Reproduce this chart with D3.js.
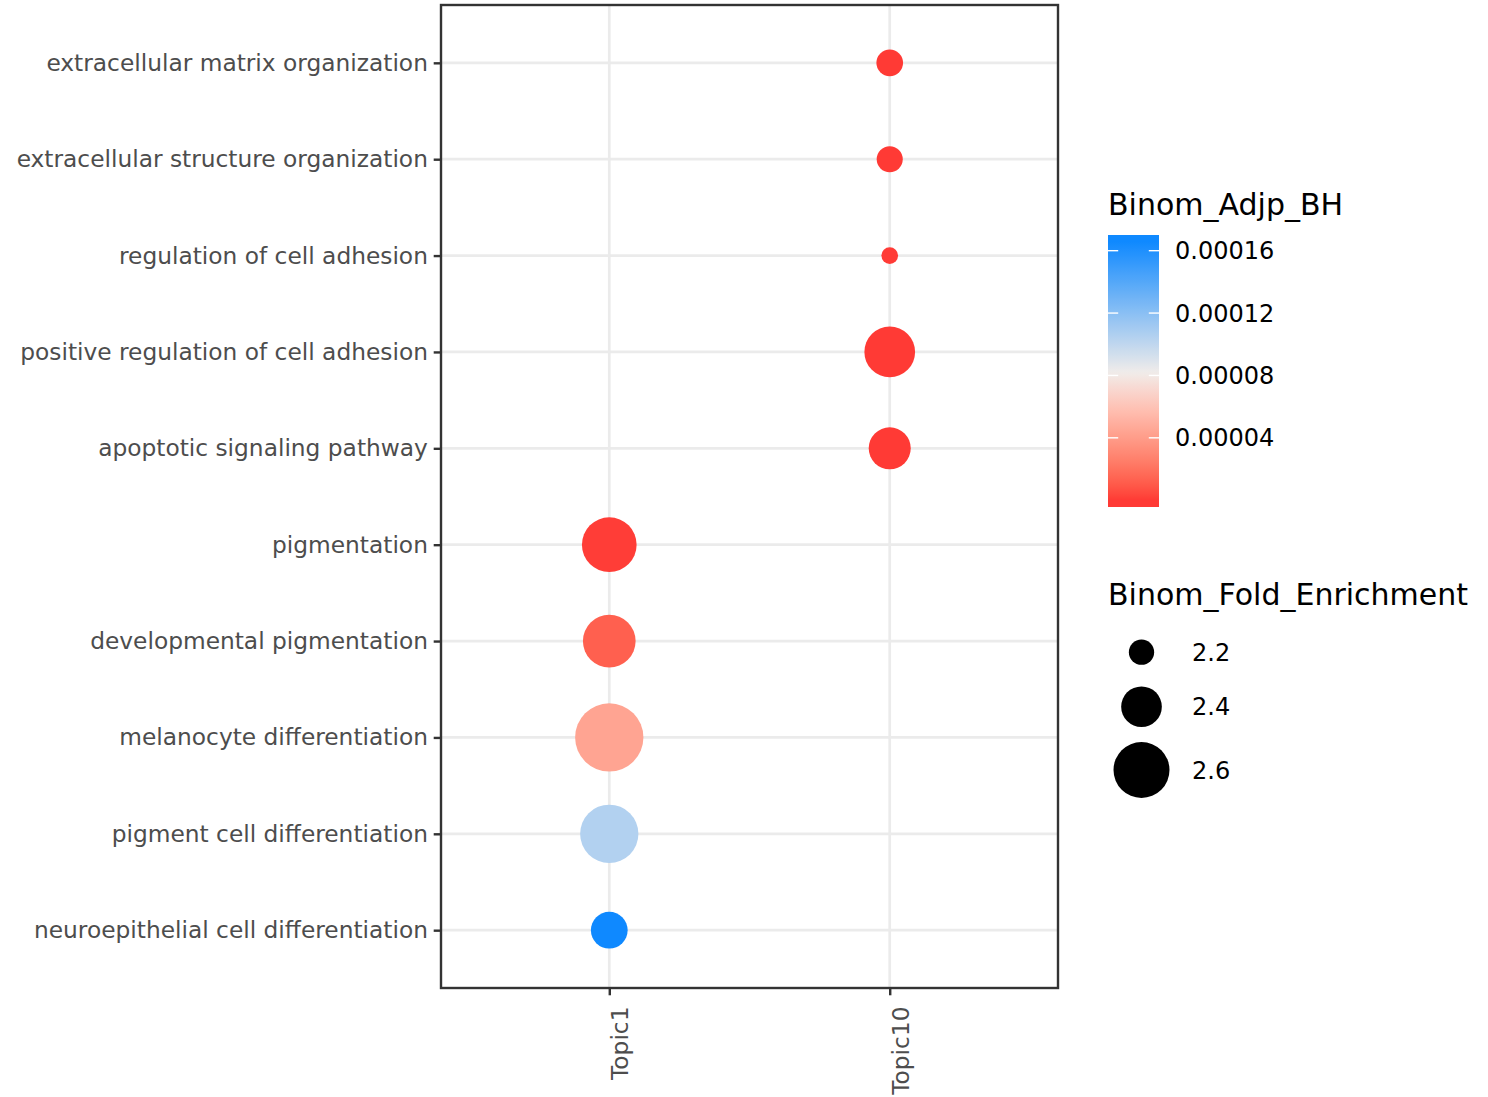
<!DOCTYPE html>
<html>
<head>
<meta charset="utf-8">
<script src="https://cdn.jsdelivr.net/npm/d3@7"></script>
<style>
  html, body { margin: 0; padding: 0; background: #fff; }
  svg { display: block; }
  text { font-family: "DejaVu Sans", sans-serif; }
</style>
</head>
<body>
<svg id="chart" width="1488" height="1097"></svg>
<script>
// ---------------- data ----------------
const terms = [
  "extracellular matrix organization",
  "extracellular structure organization",
  "regulation of cell adhesion",
  "positive regulation of cell adhesion",
  "apoptotic signaling pathway",
  "pigmentation",
  "developmental pigmentation",
  "melanocyte differentiation",
  "pigment cell differentiation",
  "neuroepithelial cell differentiation"
];
const topics = ["Topic1", "Topic10"];
const termTopic = ["Topic10","Topic10","Topic10","Topic10","Topic10",
                   "Topic1","Topic1","Topic1","Topic1","Topic1"];
const foldEnrichment = [2.218, 2.21, 2.088, 2.531, 2.418, 2.583, 2.557, 2.760, 2.630, 2.349];
const adjP = [2.1e-8, 6.5e-8, 3.4e-7, 1.2e-10, 4.0e-9, 8.0e-7, 0.0000128, 0.000044, 0.000105, 0.0001657];
const colorTicks = [0.00004, 0.00008, 0.00012, 0.00016];
const colorTickLabels = ["0.00004", "0.00008", "0.00012", "0.00016"];
const sizeBreaks = [2.2, 2.4, 2.6];
const sizeBreakLabels = ["2.2", "2.4", "2.6"];

const data = terms.map((t, i) => ({ term: t, topic: termTopic[i], fe: foldEnrichment[i], p: adjP[i] }));

// ---------------- layout ----------------
const svg = d3.select("#chart");
const panel = { left: 441, right: 1058, top: 5, bottom: 988 };
const axisColor = "#4D4D4D";
const fontAxis = 23.3;
const fontLegendText = 24;
const fontLegendTitle = 30;

const x = d3.scalePoint().domain(topics).range([panel.left, panel.right]).padding(0.6);
const y = d3.scalePoint().domain(terms).range([panel.top, panel.bottom]).padding(0.6);

const pExtent = d3.extent(adjP);
const pMid = 0.000082;
const lowCol = "#FF3A35", midCol = "#F0ECEA", highCol = "#0F89FF";
const redSide = d3.scaleLinear().domain([pExtent[0], pMid]).range([lowCol, midCol])
  .interpolate(d3.interpolateLab).clamp(true);
const blueSide = d3.scaleLinear().domain([pMid, pExtent[1]]).range([midCol, highCol])
  .interpolate(d3.interpolateRgb).clamp(true);
const color = p => (p <= pMid ? redSide(p) : blueSide(p));

const radius = d3.scaleLinear().domain([2.2, 2.6]).range([12.65, 28]);

// panel background
svg.append("rect")
  .attr("x", panel.left).attr("y", panel.top)
  .attr("width", panel.right - panel.left).attr("height", panel.bottom - panel.top)
  .attr("fill", "#fff");

// grid
const grid = svg.append("g");
grid.selectAll("line.h").data(terms).join("line")
  .attr("x1", panel.left).attr("x2", panel.right)
  .attr("y1", d => y(d)).attr("y2", d => y(d))
  .attr("stroke", "#EBEBEB").attr("stroke-width", 2.7);
grid.selectAll("line.v").data(topics).join("line")
  .attr("y1", panel.top).attr("y2", panel.bottom)
  .attr("x1", d => x(d)).attr("x2", d => x(d))
  .attr("stroke", "#EBEBEB").attr("stroke-width", 2.7);

// points
svg.append("g").selectAll("circle").data(data).join("circle")
  .attr("cx", d => x(d.topic))
  .attr("cy", d => y(d.term))
  .attr("r", d => radius(d.fe))
  .attr("fill", d => color(d.p));

// border
svg.append("rect")
  .attr("x", panel.left).attr("y", panel.top)
  .attr("width", panel.right - panel.left).attr("height", panel.bottom - panel.top)
  .attr("fill", "none").attr("stroke", "#333333").attr("stroke-width", 2.4);

// y axis
const yAxis = d3.axisLeft(y).tickSize(7.3).tickPadding(5.8);
const gy = svg.append("g").attr("transform", `translate(${panel.left},0)`).call(yAxis);
gy.select(".domain").remove();
gy.selectAll(".tick line").attr("stroke", "#333333").attr("stroke-width", 2.4);
gy.selectAll(".tick text")
  .attr("fill", axisColor).style("font-size", fontAxis + "px")
  .style("font-family", "'DejaVu Sans', sans-serif");

// x axis
const xAxis = d3.axisBottom(x).tickSize(7.3).tickPadding(0);
const gx = svg.append("g").attr("transform", `translate(0,${panel.bottom})`).call(xAxis);
gx.select(".domain").remove();
gx.selectAll(".tick line").attr("stroke", "#333333").attr("stroke-width", 2.4);
gx.selectAll(".tick text")
  .attr("fill", axisColor).style("font-size", fontAxis + "px")
  .style("font-family", "'DejaVu Sans', sans-serif")
  .attr("y", 0)
  .attr("text-anchor", "end")
  .attr("transform", "translate(0,18.5) rotate(-90)")
  .attr("x", 0)
  .attr("dy", "0.8em");

// ---------------- colour legend ----------------
const leg = { x: 1108, titleY: 215, barTop: 235, barH: 272, barW: 51 };
svg.append("text").attr("x", leg.x).attr("y", leg.titleY)
  .style("font-size", fontLegendTitle + "px").attr("fill", "#000").text("Binom_Adjp_BH");

const halfBin = leg.barH / 40;
const barScale = d3.scaleLinear().domain(pExtent)
  .range([leg.barTop + leg.barH - halfBin, leg.barTop + halfBin]);

const defs = svg.append("defs");
const grad = defs.append("linearGradient").attr("id", "cbar")
  .attr("x1", 0).attr("y1", 1).attr("x2", 0).attr("y2", 0);
const nStops = 80;
d3.range(nStops + 1).forEach(i => {
  const yy = leg.barTop + leg.barH - (i / nStops) * leg.barH;
  grad.append("stop").attr("offset", (i / nStops))
    .attr("stop-color", color(barScale.invert(yy)));
});
svg.append("rect").attr("x", leg.x).attr("y", leg.barTop)
  .attr("width", leg.barW).attr("height", leg.barH).attr("fill", "url(#cbar)");

const cTicks = svg.append("g");
colorTicks.forEach((v, i) => {
  const yy = barScale(v);
  cTicks.append("line").attr("x1", leg.x).attr("x2", leg.x + leg.barW / 5)
    .attr("y1", yy).attr("y2", yy).attr("stroke", "#fff").attr("stroke-width", 1.4);
  cTicks.append("line").attr("x1", leg.x + leg.barW * 4 / 5).attr("x2", leg.x + leg.barW)
    .attr("y1", yy).attr("y2", yy).attr("stroke", "#fff").attr("stroke-width", 1.4);
  cTicks.append("text").attr("x", 1175).attr("y", yy).attr("dy", "0.36em")
    .style("font-size", fontLegendText + "px").attr("fill", "#000").text(colorTickLabels[i]);
});

// ---------------- size legend ----------------
const sLeg = { x: 1108, titleY: 605, cx: 1141.5, firstY: 652.2 };
svg.append("text").attr("x", sLeg.x).attr("y", sLeg.titleY)
  .style("font-size", fontLegendTitle + "px").attr("fill", "#000").text("Binom_Fold_Enrichment");
const rowOffsets = [0, 54.5, 117.8];
sizeBreaks.forEach((v, i) => {
  const cy = sLeg.firstY + rowOffsets[i];
  svg.append("circle").attr("cx", sLeg.cx).attr("cy", cy).attr("r", radius(v)).attr("fill", "#000");
  svg.append("text").attr("x", 1192).attr("y", cy).attr("dy", "0.36em")
    .style("font-size", fontLegendText + "px").attr("fill", "#000").text(sizeBreakLabels[i]);
});
</script>
</body>
</html>
